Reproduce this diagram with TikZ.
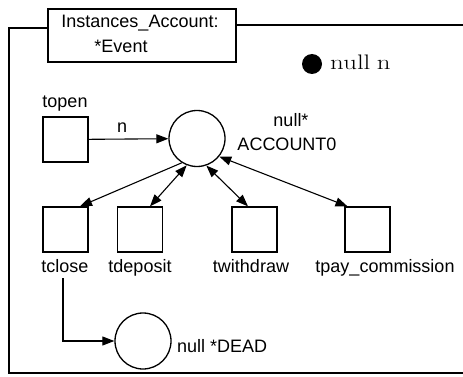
\documentclass[tikz,border=0pt]{standalone}
\usepackage{fontspec}
\usepackage{graphicx}
\setmainfont{Liberation Sans}
\newfontfamily\serifnull{Latin Modern Roman}
\usetikzlibrary{arrows.meta}
\begin{document}
\begin{tikzpicture}[x=1pt,y=-1pt,
  every node/.style={font=\fontsize{18}{20}\selectfont},
  tbox/.style={draw, line width=1.3pt, minimum width=45pt, minimum height=45pt, inner sep=0pt},
  place/.style={draw, circle, line width=1.3pt, minimum size=56pt, inner sep=0pt},
  lbl/.style={anchor=base, inner sep=0pt},
  tip/.tip={Triangle[length=12pt,width=9pt]},
  arr/.style={line width=1.1pt, -tip},
  darr/.style={line width=1.1pt, tip-tip},
  frame/.style={line width=1.2pt}
]
\useasboundingbox (0,0) rectangle (463,377);
% title box and frame
\node[draw, line width=1.1pt, minimum width=188pt, minimum height=53pt, inner sep=0pt] (title) at (142,35.5) {};
\node[lbl] (title1) at (140,28) {Instances\_Account:};
\node[lbl] (title2) at (121,53) {*Event};
\draw[frame] ([yshift=7.5pt]title.west) -- (9,28) -- (9,373) -- (463,373);
\draw[frame] ([yshift=10.5pt]title.east) -- (463,25);
% legend
\node[circle, fill, minimum size=20pt, inner sep=0pt] (dot) at (312,64) {};
\node[anchor=base west, inner sep=0pt, font=\fontsize{21}{23}\serifnull] (nulln) at (330,70) {\scalebox{1.28}[1]{null\hspace{5pt}n}};
% transitions
\node[tbox] (topen) at (65.5,139.5) {};
\node[lbl] (topenl) at (65,108) {topen};
\node[tbox] (tclose) at (65.5,229.5) {};
\node[tbox] (tdeposit) at (140,229.5) {};
\node[tbox] (twithdraw) at (254.5,229.5) {};
\node[tbox] (tpay) at (367.5,229.5) {};
\node[lbl] (tclosel) at (65,272) {tclose};
\node[lbl] (tdepositl) at (140,272) {tdeposit};
\node[lbl] (twithdrawl) at (251,272) {twithdraw};
\node[lbl] (tpayl) at (385,272) {tpay\_commission};
% places
\node[place] (acc) at (197,138.5) {};
\node[lbl] (accl1) at (291,127) {null*};
\node[lbl] (accl2) at (287,150) {ACCOUNT0};
\node[place] (dead) at (143,341) {};
\node[anchor=base west, inner sep=0pt] (deadl) at (177,352) {null *DEAD};
% arcs
\draw[arr] (topen) -- node[lbl, above=6pt, pos=0.42] (nl) {n} (acc);
\draw[arr] (acc.238) -- ([xshift=14.5pt]tclose.north);
\draw[darr] (acc.249) -- ([xshift=10pt]tdeposit.north);
\draw[darr] (acc.289) -- ([xshift=-6.5pt]twithdraw.north);
\draw[darr] (acc.321) -- ([xshift=-20pt]tpay.north);
\draw[arr] ([xshift=-2pt,yshift=-6pt]tclosel.south) |- (dead.west);
\end{tikzpicture}
\end{document}
